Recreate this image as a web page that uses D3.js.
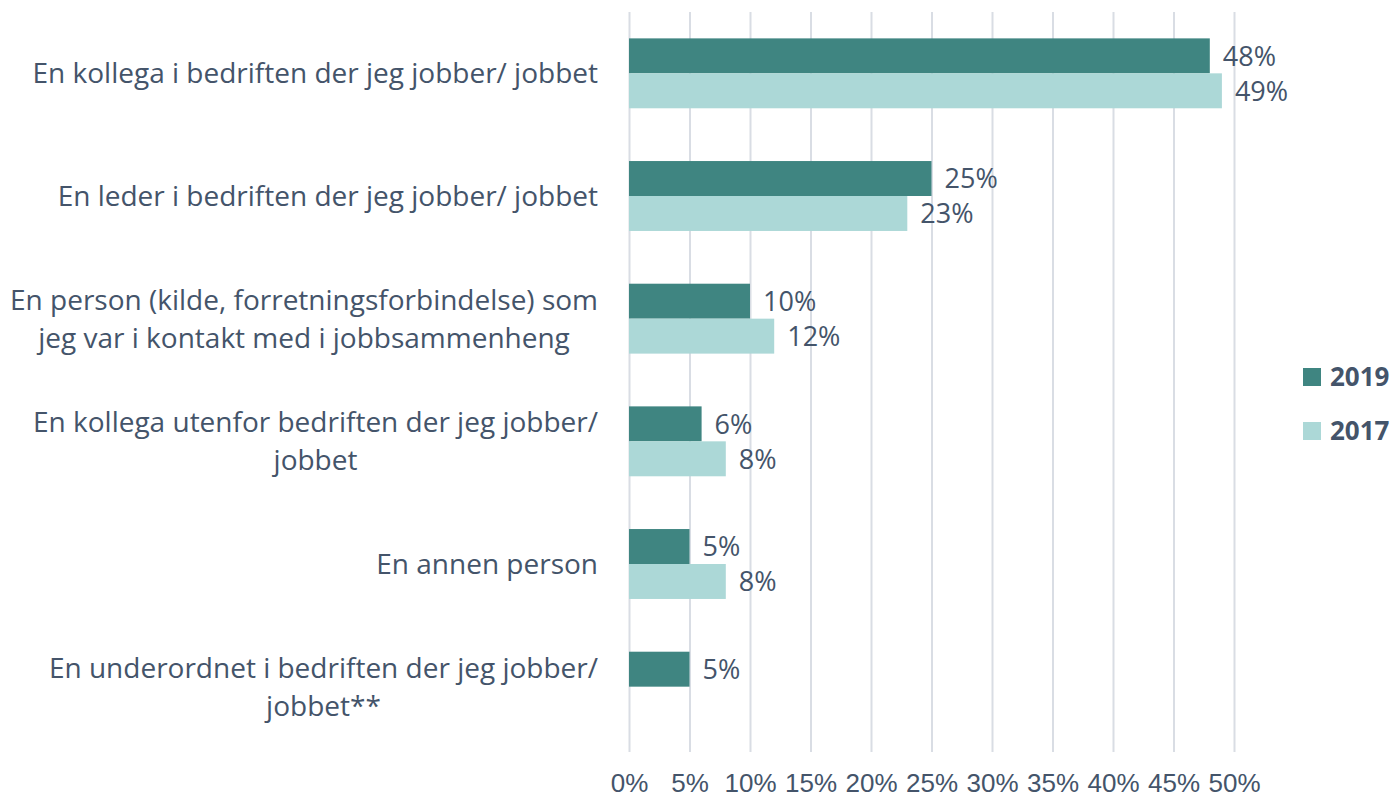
<!DOCTYPE html>
<html>
<head>
<meta charset="utf-8">
<script src="https://cdn.jsdelivr.net/npm/d3@7"></script>
<style>
  body { margin: 0; background: #fff; }
  svg { font-family: "Open Sans", "Noto Sans", sans-serif; }
</style>
</head>
<body>
<div id="chart"></div>
<script>
// categories, wrapped as in the original
const categories = [
    ["En kollega i bedriften der jeg jobber/ jobbet"],
    ["En leder i bedriften der jeg jobber/ jobbet"],
    ["En person (kilde, forretningsforbindelse) som", "jeg var i kontakt med i jobbsammenheng"],
    ["En kollega utenfor bedriften der jeg jobber/", "jobbet"],
    ["En annen person"],
    ["En underordnet i bedriften der jeg jobber/", "jobbet**"]
];
const seriesNames = ["2019", "2017"];
const values2019 = [48, 25, 10, 6, 5, 5];
const values2017 = [49, 23, 12, 8, 8, null];
const xTicks = [0, 5, 10, 15, 20, 25, 30, 35, 40, 45, 50];

const width = 1398;
const height = 802;
const margin = { top: 12, right: 164, bottom: 54, left: 629 };
const textColor = '#44546a';
const colors = ['#3f8581', '#acd8d7'];

const svg = d3.select('#chart')
    .append('svg')
    .attr('width', width)
    .attr('height', height);

const chartWidth = 1234 - margin.left;
const chartHeight = height - margin.top - margin.bottom;

const chart = svg.append('g')
    .attr('transform', `translate(${margin.left},${margin.top})`);

const xScale = d3.scaleLinear()
    .domain([0, 50])
    .range([0, chartWidth]);

const yScale = d3.scaleBand()
    .domain(d3.range(categories.length))
    .range([0, chartHeight])
    .paddingInner(0.43)
    .paddingOuter(0.215);

const inner = d3.scaleBand()
    .domain(seriesNames)
    .range([0, yScale.bandwidth()]);

// gridlines
const grid = d3.axisBottom(xScale)
    .tickValues(xTicks)
    .tickSize(chartHeight + 4)
    .tickFormat('');

chart.append('g')
    .classed('gridline', true)
    .call(grid)
    .call(g => g.select('.domain').remove())
    .call(g => g.selectAll('line').attr('stroke', '#d9dde4').attr('stroke-width', 2));

// x axis labels
const xAxis = d3.axisBottom(xScale)
    .tickValues(xTicks)
    .tickSize(0)
    .tickPadding(0)
    .tickFormat(d => d + '%');

chart.append('g')
    .classed('x axis', true)
    .attr('transform', `translate(0,${chartHeight + 26})`)
    .call(xAxis)
    .call(g => g.select('.domain').remove())
    .call(g => g.selectAll('text')
        .attr('fill', textColor)
        .style('font-size', '26px'));

const rows = categories.map((c, i) => ({
    label: c,
    values: [values2019[i], values2017[i]]
}));

const groups = chart.selectAll('.group')
    .data(rows)
    .enter()
    .append('g')
    .classed('group', true)
    .attr('transform', (d, i) => `translate(0,${yScale(i)})`);

groups.selectAll('.bar')
    .data(d => d.values.map((v, j) => ({ v: v, s: seriesNames[j], j: j })).filter(e => e.v != null))
    .enter()
    .append('rect')
    .classed('bar', true)
    .attr('x', 0)
    .attr('y', d => inner(d.s))
    .attr('width', d => xScale(d.v))
    .attr('height', inner.bandwidth())
    .style('fill', d => colors[d.j]);

groups.selectAll('.value')
    .data(d => d.values.map((v, j) => ({ v: v, s: seriesNames[j] })).filter(e => e.v != null))
    .enter()
    .append('text')
    .classed('value', true)
    .attr('x', d => xScale(d.v) + 13)
    .attr('y', d => inner(d.s) + inner.bandwidth() / 2)
    .attr('dy', '0.36em')
    .attr('fill', textColor)
    .style('font-size', '27px')
    .text(d => d.v + '%');

// category labels: lines centred, block right-aligned against the axis
const labelSize = 28;
const lineHeight = 38;
const labelRight = -31;
const labels = groups.append('text')
    .attr('y', yScale.bandwidth() / 2)
    .attr('text-anchor', 'middle')
    .attr('fill', textColor)
    .style('font-size', labelSize + 'px');

labels.selectAll('tspan')
    .data(d => d.label.map((t, k) => ({ t: t, k: k, n: d.label.length })))
    .enter()
    .append('tspan')
    .attr('dy', d => d.k === 0 ? ((-(d.n - 1) * lineHeight / 2) / labelSize + 0.36) + 'em' : lineHeight + 'px')
    .text(d => d.t);

labels.each(function() {
    const spans = d3.select(this).selectAll('tspan');
    let maxW = 0;
    spans.each(function() { maxW = Math.max(maxW, this.getComputedTextLength()); });
    spans.attr('x', labelRight - maxW / 2);
});

// legend
const legend = svg.append('g')
    .attr('transform', 'translate(1303,368)');

const items = legend.selectAll('.item')
    .data(seriesNames)
    .enter()
    .append('g')
    .attr('transform', (d, i) => `translate(0,${i * 54})`);

items.append('rect')
    .attr('width', 18)
    .attr('height', 18)
    .style('fill', (d, i) => colors[i]);

items.append('text')
    .attr('x', 27)
    .attr('y', 9)
    .attr('dy', '0.36em')
    .attr('fill', textColor)
    .style('font-size', '26px')
    .style('font-weight', 'bold')
    .text(d => d);
</script>
</body>
</html>
